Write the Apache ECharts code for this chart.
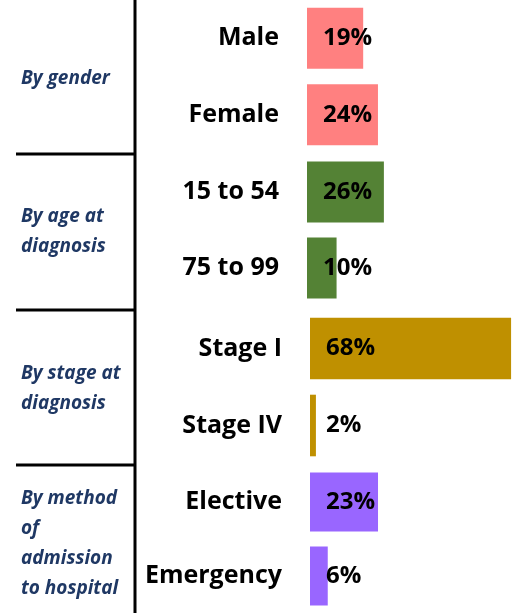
<!DOCTYPE html>
<html>
<head>
<meta charset="utf-8">
<script src="https://cdn.jsdelivr.net/npm/echarts@6/dist/echarts.min.js"></script>
<style>
  html, body { margin: 0; padding: 0; background: #fff; }
  #chart { width: 527px; height: 613px; }
</style>
</head>
<body>
<div id="chart"></div>
<script>
// group labels, categories and values per panel
const groupNames = ['By gender', 'By age at\ndiagnosis', 'By stage at\ndiagnosis', 'By method\nof\nadmission\nto hospital']
const categories = [
  ['Male', 'Female'],
  ['15 to 54', '75 to 99'],
  ['Stage I', 'Stage IV'],
  ['Elective', 'Emergency']
]
const values = [
  [19, 24],
  [26, 10],
  [68, 2],
  [23, 6]
]
const colors = ['#FF8080', '#548235', '#BF9000', '#9966FF']

// panel layout
const panels = [
  { top: 0, height: 153, left: 307 },
  { top: 154, height: 152, left: 307 },
  { top: 310, height: 154, left: 310 },
  { top: 465, height: 153, left: 310 }
]

const fontFamily = '"Open Sans", "Noto Sans", sans-serif'

const chart = echarts.init(document.getElementById('chart'))

const grid = []
const xAxis = []
const yAxis = []
const series = []
const graphic = []

panels.forEach((p, i) => {
  grid.push({ left: p.left, top: p.top, width: 207, height: p.height })
  xAxis.push({
    gridIndex: i,
    type: 'value',
    min: 0,
    max: 70,
    show: false
  })
  yAxis.push({
    gridIndex: i,
    type: 'category',
    inverse: true,
    data: categories[i],
    axisLine: { show: false },
    axisTick: { show: false },
    splitLine: { show: false },
    axisLabel: {
      margin: 28,
      color: '#000',
      fontSize: 25,
      fontWeight: 'bold',
      fontFamily: fontFamily
    }
  })
  series.push({
    type: 'bar',
    xAxisIndex: i,
    yAxisIndex: i,
    data: values[i],
    barCategoryGap: '20%',
    itemStyle: { color: colors[i] },
    silent: true,
    label: {
      show: true,
      position: [16, '50%'],
      align: 'left',
      verticalAlign: 'middle',
      formatter: '{c}%',
      color: '#000',
      fontSize: 24,
      fontWeight: 'bold',
      fontFamily: fontFamily
    }
  })
  graphic.push({
    type: 'text',
    left: 21,
    top: p.top + p.height / 2 + 2 - (groupNames[i].split('\n').length * 30) / 2,
    style: {
      text: groupNames[i],
      fill: '#1F3864',
      font: 'italic bold 19px ' + fontFamily,
      lineHeight: 30
    }
  })
})

// frame lines
graphic.push({
  type: 'line',
  shape: { x1: 135, y1: 0, x2: 135, y2: 613 },
  style: { stroke: '#000', lineWidth: 3 }
})
;[154, 310, 465].forEach(y => {
  graphic.push({
    type: 'line',
    shape: { x1: 16, y1: y, x2: 135, y2: y },
    style: { stroke: '#000', lineWidth: 3 }
  })
})

chart.setOption({
  animation: false,
  grid: grid,
  xAxis: xAxis,
  yAxis: yAxis,
  series: series,
  graphic: graphic
})
</script>
</body>
</html>
